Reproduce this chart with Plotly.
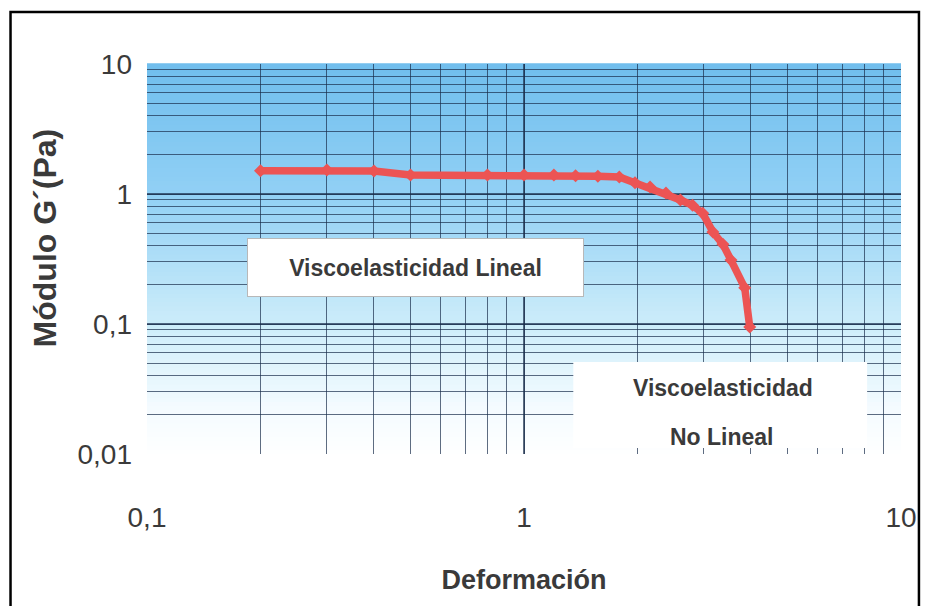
import plotly.graph_objects as go

# ---- data ----
deformacion = [0.2, 0.3, 0.4, 0.5, 0.8, 1.0, 1.2, 1.37, 1.57, 1.79, 1.97, 2.16,
               2.38, 2.6, 2.8, 2.98, 3.17, 3.37, 3.54, 3.85, 3.97]
modulo_g = [1.51, 1.53, 1.50, 1.40, 1.40, 1.40, 1.40, 1.38, 1.37, 1.35, 1.22, 1.13,
            1.02, 0.90, 0.82, 0.71, 0.51, 0.41, 0.31, 0.19, 0.095]

x_tickvals = [0.1, 1, 10]
x_ticktext = ["0,1", "1", "10"]
y_tickvals = [0.01, 0.1, 1, 10]
y_ticktext = ["0,01", "0,1", "1", "10"]

label_lineal = "Viscoelasticidad Lineal"
label_nolineal = ["Viscoelasticidad", "No Lineal"]
x_title = "Deformación"
y_title = "Módulo G´(Pa)"

SANS = "Liberation Sans, Arial, sans-serif"
TXT = "#3a3a3a"
GRID = "rgba(25,45,75,0.70)"

# pixel -> paper helpers (plot area: x 147..904, y 64..454)
def px(x):
    return (x - 147) / 757
def py(y):
    return (454 - y) / 390

fig = go.Figure()
fig.add_trace(go.Scatter(
    x=deformacion, y=modulo_g, mode="lines+markers",
    line=dict(color="rgb(236,84,84)", width=7.5),
    marker=dict(color="rgb(236,84,84)", size=10, symbol="diamond"),
    showlegend=False, hoverinfo="x+y"))

# vertical gradient background (drawn below the grid)
stops = [(0.0, (255, 255, 255)), (0.12, (244, 251, 255)), (0.33, (205, 237, 250)),
         (0.67, (145, 208, 245)), (1.0, (112, 190, 237))]
def col(f):
    for (f0, c0), (f1, c1) in zip(stops[:-1], stops[1:]):
        if f0 <= f <= f1:
            t = (f - f0) / (f1 - f0)
            return "rgb(%d,%d,%d)" % tuple(round(a + (b - a) * t) for a, b in zip(c0, c1))
    return "white"
shapes = []
N = 90
for i in range(N):
    shapes.append(dict(type="rect", xref="paper", yref="paper", x0=0, x1=1,
                       y0=i / N, y1=(i + 1) / N + 0.002, fillcolor=col((i + 0.5) / N),
                       line=dict(width=0), layer="below"))
# white box for the "No Lineal" label
shapes.append(dict(type="rect", xref="paper", yref="paper",
                   x0=px(575), x1=px(870), y0=py(448), y1=py(362),
                   fillcolor="white", line=dict(width=0), layer="above"))
# outer frame
shapes.append(dict(type="path", xref="paper", yref="paper",
                   path="M %.4f %.4f L %.4f %.4f L %.4f %.4f L %.4f %.4f" % (
                       px(10), py(620), px(10), py(12), px(922), py(12), px(922), py(620)),
                   line=dict(color="black", width=2.5)))

annotations = [
    dict(text="<b>%s</b>" % label_lineal, xref="paper", yref="paper",
         x=px(416.5), y=py(267.5), xanchor="center", yanchor="middle", showarrow=False,
         width=331, height=53, bgcolor="white", bordercolor="#b8b8b8", borderwidth=1,
         borderpad=2, font=dict(family=SANS, size=23, color=TXT)),
    dict(text="<b>%s</b>" % label_nolineal[0], xref="paper", yref="paper",
         x=px(725), y=py(388), xanchor="center", yanchor="middle", showarrow=False,
         font=dict(family=SANS, size=23, color=TXT)),
    dict(text="<b>%s</b>" % label_nolineal[1], xref="paper", yref="paper",
         x=px(724), y=py(437), xanchor="center", yanchor="middle", showarrow=False,
         font=dict(family=SANS, size=23, color=TXT)),
    dict(text="<b>%s</b>" % y_title, xref="paper", yref="paper",
         x=px(45), y=py(238), xanchor="center", yanchor="middle", showarrow=False,
         textangle=-90, font=dict(family=SANS, size=32, color=TXT)),
]

fig.update_layout(
    width=929, height=606, margin=dict(l=147, r=25, t=64, b=152),
    paper_bgcolor="white", plot_bgcolor="white",
    shapes=shapes, annotations=annotations,
)
fig.update_xaxes(
    type="log", range=[-1, 1], tickmode="array", tickvals=x_tickvals, ticktext=x_ticktext,
    showgrid=True, gridcolor=GRID, gridwidth=1.5, zeroline=False, showline=False,
    ticks="", ticklabelstandoff=44,
    tickfont=dict(family=SANS, size=28, color=TXT),
    minor=dict(dtick="D1", showgrid=True, gridcolor=GRID, gridwidth=1, ticks=""),
    title=dict(text="<b>%s</b>" % x_title, standoff=38,
               font=dict(family=SANS, size=27, color=TXT)),
)
fig.update_yaxes(
    type="log", range=[-2, 1], tickmode="array", tickvals=y_tickvals, ticktext=y_ticktext,
    showgrid=True, gridcolor=GRID, gridwidth=1.5, zeroline=False, showline=False,
    ticks="", ticklabelstandoff=14,
    tickfont=dict(family=SANS, size=28, color=TXT),
    minor=dict(dtick="D1", showgrid=True, gridcolor=GRID, gridwidth=1, ticks=""),
)

fig.write_html("out.html")
